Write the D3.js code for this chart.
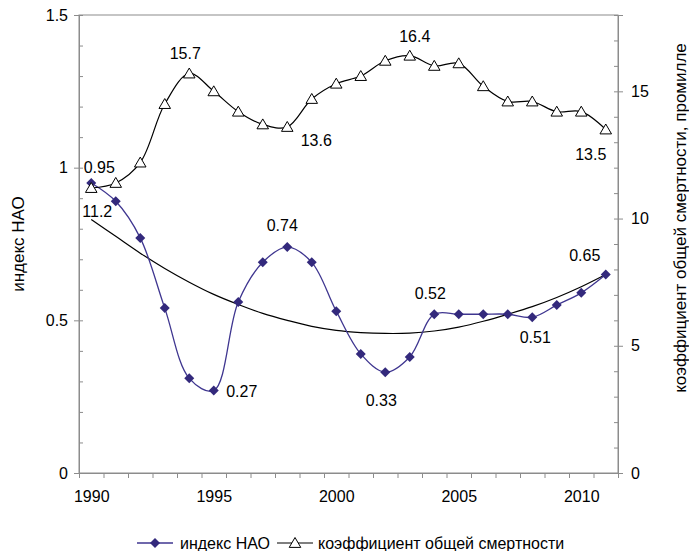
<!DOCTYPE html>
<html>
<head>
<meta charset="utf-8">
<script src="https://cdn.jsdelivr.net/npm/d3@7"></script>
<style>
  html, body { margin: 0; padding: 0; background: #fff; }
  svg { display: block; font-family: "Liberation Sans", Arial, sans-serif; }
</style>
</head>
<body>
<svg id="chart" width="689" height="551"></svg>
<script>
// ---------- data ----------
const years = [1990,1991,1992,1993,1994,1995,1996,1997,1998,1999,2000,2001,2002,2003,2004,2005,2006,2007,2008,2009,2010,2011];
const naoIndex = [0.95,0.89,0.77,0.54,0.31,0.27,0.56,0.69,0.74,0.69,0.53,0.39,0.33,0.38,0.52,0.52,0.52,0.52,0.51,0.55,0.59,0.65];
const mortality = [11.2,11.4,12.2,14.5,15.7,15.0,14.2,13.7,13.6,14.7,15.3,15.6,16.2,16.4,16.0,16.1,15.2,14.6,14.6,14.2,14.2,13.5];
const naoTrend = [0.83,0.775,0.72,0.67,0.625,0.585,0.552,0.523,0.50,0.48,0.467,0.46,0.457,0.458,0.465,0.478,0.497,0.52,0.545,0.575,0.61,0.65];
const xTickLabels = [1990,1995,2000,2005,2010];
const leftTicks = [0,0.5,1,1.5];
const rightTicks = [0,5,10,15];
const seriesNames = ["индекс НАО","коэффициент общей смертности"];
const leftTitle = "индекс НАО";
const rightTitle = "коэффициент общей смертности, промилле";
const naoLabelYears = [1990,1995,1998,2002,2004,2008,2011];
const mortLabelYears = [1990,1994,1998,2003,2011];

// ---------- layout ----------
const svg = d3.select("#chart");
const P = {l: 79, r: 618, t: 15, b: 473};
const FS = 16, FT = 17;
const naoColor = "#3f3690", naoMarker = "#33297c";

const x = d3.scaleLinear().domain([years[0]-0.5, years[years.length-1]+0.5]).range([P.l, P.r]);
const yL = d3.scaleLinear().domain([0,1.5]).range([P.b, P.t]);
const yR = d3.scaleLinear().domain([0,18]).range([P.b, P.t]);

// plot border
svg.append("rect").attr("x",P.l).attr("y",P.t).attr("width",P.r-P.l).attr("height",P.b-P.t)
  .attr("fill","none").attr("stroke","#8c8c8c").attr("stroke-width",1);

// left axis
const gL = svg.append("g").attr("transform",`translate(${P.l},0)`);
gL.call(d3.axisLeft(yL).tickValues(leftTicks).tickFormat(d=>String(d)).tickSize(5).tickPadding(6));
gL.append("g").call(d3.axisRight(yL).tickValues(d3.range(0,16).map(d=>d/10)).tickFormat("").tickSize(4));
// right axis
const gR = svg.append("g").attr("transform",`translate(${P.r},0)`);
gR.call(d3.axisRight(yR).tickValues(rightTicks).tickFormat(d=>String(d)).tickSize(5).tickPadding(8));
gR.append("g").call(d3.axisLeft(yR).tickValues(d3.range(0,19)).tickFormat("").tickSize(4));
// bottom axis
const gB = svg.append("g").attr("transform",`translate(0,${P.b})`);
gB.call(d3.axisBottom(x).tickValues(d3.range(years[0]-0.5, years[years.length-1]+1)).tickFormat("").tickSize(5));
gB.append("g").call(d3.axisBottom(x).tickValues(xTickLabels).tickFormat(d=>String(d)).tickSize(0).tickPadding(18));

svg.selectAll(".domain").attr("stroke","#8c8c8c");
svg.selectAll(".tick line").attr("stroke","#8c8c8c");
svg.selectAll(".tick text").attr("font-size",FS).attr("fill","#000").attr("font-family","Liberation Sans, Arial, sans-serif");

// lines
const curve = d3.curveCatmullRom.alpha(0.5);
const lineL = d3.line().x((d,i)=>x(years[i])).y(d=>yL(d)).curve(curve);
const lineR = d3.line().x((d,i)=>x(years[i])).y(d=>yR(d)).curve(curve);

svg.append("path").attr("d",lineL(naoTrend)).attr("fill","none").attr("stroke","#000").attr("stroke-width",1.2);
svg.append("path").attr("d",lineL(naoIndex)).attr("fill","none").attr("stroke",naoColor).attr("stroke-width",1.3);
svg.append("path").attr("d",lineR(mortality)).attr("fill","none").attr("stroke","#000").attr("stroke-width",1.2);

const diamond = s => `M0,${-s}L${s},0L0,${s}L${-s},0Z`;
const tri = s => `M0,${-s}L${s*1.05},${s*0.8}L${-s*1.05},${s*0.8}Z`;

svg.append("g").selectAll("path").data(naoIndex).join("path")
  .attr("transform",(d,i)=>`translate(${x(years[i])},${yL(d)})`)
  .attr("d",diamond(5)).attr("fill",naoMarker);
svg.append("g").selectAll("path").data(mortality).join("path")
  .attr("transform",(d,i)=>`translate(${x(years[i])},${yR(d)})`)
  .attr("d",tri(5.5)).attr("fill","#fff").attr("stroke","#000").attr("stroke-width",1);

// data labels
const naoLabelOffsets = {1990:[8,-10],1995:[28,6],1998:[-5,-16],2002:[-4,34],2004:[-4,-15],2008:[3,26],2011:[-21,-14]};
const mortLabelOffsets = {1990:[6,29],1994:[-4,-15],1998:[29,19],2003:[5,-14],2011:[-15,30]};
const gLab = svg.append("g").attr("font-size",FS).attr("text-anchor","middle").attr("fill","#000");
naoLabelYears.forEach(yr=>{
  const i = years.indexOf(yr), o = naoLabelOffsets[yr];
  gLab.append("text").attr("x",x(yr)+o[0]).attr("y",yL(naoIndex[i])+o[1]).text(naoIndex[i].toFixed(2));
});
mortLabelYears.forEach(yr=>{
  const i = years.indexOf(yr), o = mortLabelOffsets[yr];
  gLab.append("text").attr("x",x(yr)+o[0]).attr("y",yR(mortality[i])+o[1]).text(mortality[i].toFixed(1));
});

// axis titles
svg.append("text").attr("transform",`translate(24,${(P.t+P.b)/2}) rotate(-90)`)
  .attr("text-anchor","middle").attr("font-size",FT).text(leftTitle);
svg.append("text").attr("transform",`translate(686,218) rotate(-90)`)
  .attr("text-anchor","middle").attr("font-size",FT).text(rightTitle);

// legend
const lg = svg.append("g").attr("transform","translate(0,543)").attr("font-size",FS);
lg.append("line").attr("x1",137).attr("x2",173).attr("y1",0).attr("y2",0).attr("stroke",naoColor).attr("stroke-width",1.3);
lg.append("path").attr("transform","translate(155,0)").attr("d",diamond(5)).attr("fill",naoMarker);
lg.append("text").attr("x",180).attr("y",6).text(seriesNames[0]);
lg.append("line").attr("x1",277).attr("x2",313).attr("y1",0).attr("y2",0).attr("stroke","#000").attr("stroke-width",1.2);
lg.append("path").attr("transform","translate(295,0)").attr("d",tri(5.5)).attr("fill","#fff").attr("stroke","#000");
lg.append("text").attr("x",318).attr("y",6).text(seriesNames[1]);
</script>
</body>
</html>
